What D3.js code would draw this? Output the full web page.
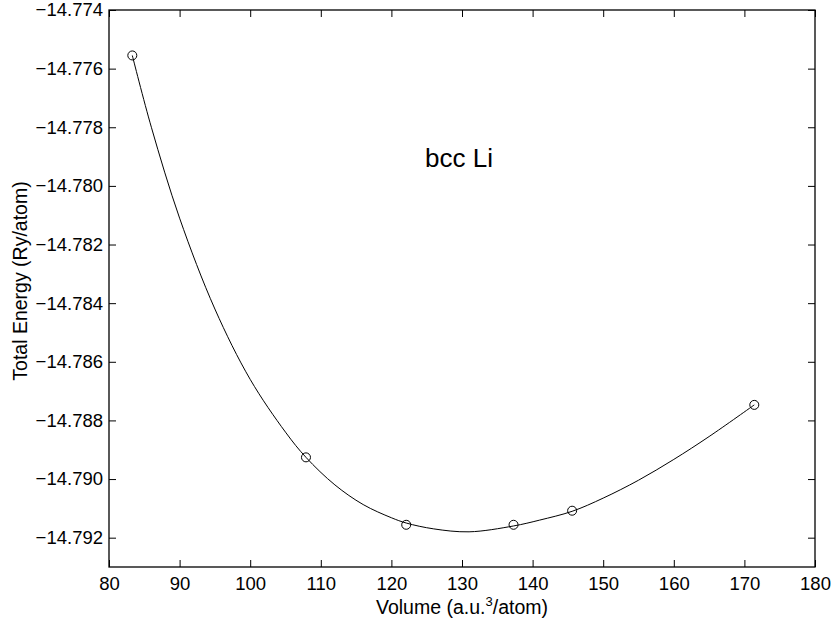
<!DOCTYPE html>
<html>
<head>
<meta charset="utf-8">
<script src="https://cdn.jsdelivr.net/npm/d3@7"></script>
<style>
  body { margin: 0; background: #fff; }
  svg text { font-family: "Liberation Sans", Arial, sans-serif; fill: #000; }
</style>
</head>
<body>
<div class="chart"></div>
<script>
// measured points (volume in a.u.^3/atom, energy in Ry/atom)
const volumes = [83.3, 107.9, 122.1, 137.3, 145.6, 171.4];
const energies = [-14.77555, -14.78926, -14.79156, -14.79156, -14.79108, -14.78747];

// fitted curve
const fitVolumes = [83.3, 86, 90, 95, 100, 105, 107.9, 112, 116, 120, 122.1, 126, 131, 137.3, 141, 145.6, 150, 155, 160, 165, 171.4];
const fitEnergies = [-14.77555, -14.7780, -14.7811, -14.7842, -14.7866, -14.7884, -14.78926, -14.7902, -14.79087, -14.79132, -14.7915, -14.7917, -14.7918, -14.7916, -14.7914, -14.7911, -14.79065, -14.79004, -14.78933, -14.78855, -14.78747];

const xTicks = [80, 90, 100, 110, 120, 130, 140, 150, 160, 170, 180];
const yTicks = [-14.774, -14.776, -14.778, -14.780, -14.782, -14.784, -14.786, -14.788, -14.790, -14.792];

const width = 832, height = 628;
const margin = {left: 109, right: 17, top: 10, bottom: 61};
const tickLen = 7;

const svg = d3.select("div.chart")
	.append("svg")
	.attr("width", width)
	.attr("height", height);

const x = d3.scaleLinear()
	.domain([80, 180])
	.range([margin.left, width - margin.right]);

const y = d3.scaleLinear()
	.domain([-14.793, -14.774])
	.range([height - margin.bottom, margin.top]);

const fmt = d => d3.format(".3f")(d).replace("-", "\u2212");

// ticks on all four sides, pointing inward (matlab style)
const axisStyle = g => {
	g.select(".domain").remove();
	g.selectAll(".tick line").attr("stroke", "#000").attr("stroke-width", 1);
	g.selectAll(".tick text").style("font-size", "18.5px").attr("fill", "#000");
};

svg.append("g")
	.attr("transform", "translate(0," + y.range()[0] + ")")
	.call(d3.axisBottom(x).tickValues(xTicks).tickSize(-tickLen).tickPadding(10).tickFormat(d3.format("d")))
	.call(axisStyle);

svg.append("g")
	.attr("transform", "translate(0," + y.range()[1] + ")")
	.call(d3.axisTop(x).tickValues(xTicks).tickSize(-tickLen).tickFormat(""))
	.call(axisStyle);

svg.append("g")
	.attr("transform", "translate(" + x.range()[0] + ",0)")
	.call(d3.axisLeft(y).tickValues(yTicks).tickSize(-tickLen).tickPadding(6).tickFormat(fmt))
	.call(axisStyle);

svg.append("g")
	.attr("transform", "translate(" + x.range()[1] + ",0)")
	.call(d3.axisRight(y).tickValues(yTicks).tickSize(-tickLen).tickFormat(""))
	.call(axisStyle);

// box
svg.append("rect")
	.attr("x", x.range()[0])
	.attr("y", y.range()[1])
	.attr("width", x.range()[1] - x.range()[0])
	.attr("height", y.range()[0] - y.range()[1])
	.attr("fill", "none")
	.attr("stroke", "#000")
	.attr("stroke-width", 1.3);

// fitted curve
const line = d3.line()
	.x((d, i) => x(fitVolumes[i]))
	.y(d => y(d))
	.curve(d3.curveCatmullRom.alpha(0.5));

svg.append("path")
	.datum(fitEnergies)
	.attr("d", line)
	.attr("fill", "none")
	.attr("stroke", "#000")
	.attr("stroke-width", 1);

// data markers
svg.selectAll("circle.pt")
	.data(energies)
	.join("circle")
	.attr("class", "pt")
	.attr("cx", (d, i) => x(volumes[i]))
	.attr("cy", d => y(d))
	.attr("r", 4.5)
	.attr("fill", "none")
	.attr("stroke", "#000")
	.attr("stroke-width", 1);

// annotation
svg.append("text")
	.attr("x", 459)
	.attr("y", 167)
	.attr("text-anchor", "middle")
	.style("font-size", "26px")
	.text("bcc Li");

// axis labels
const xl = svg.append("text")
	.attr("x", (x.range()[0] + x.range()[1]) / 2)
	.attr("y", 614)
	.attr("text-anchor", "middle")
	.style("font-size", "19.5px");
xl.append("tspan").text("Volume (a.u.");
xl.append("tspan").attr("dy", -8).style("font-size", "13px").text("3");
xl.append("tspan").attr("dy", 8).text("/atom)");

svg.append("text")
	.attr("transform", "translate(27,281) rotate(-90)")
	.attr("text-anchor", "middle")
	.style("font-size", "19.5px")
	.text("Total Energy (Ry/atom)");
</script>
</body>
</html>
